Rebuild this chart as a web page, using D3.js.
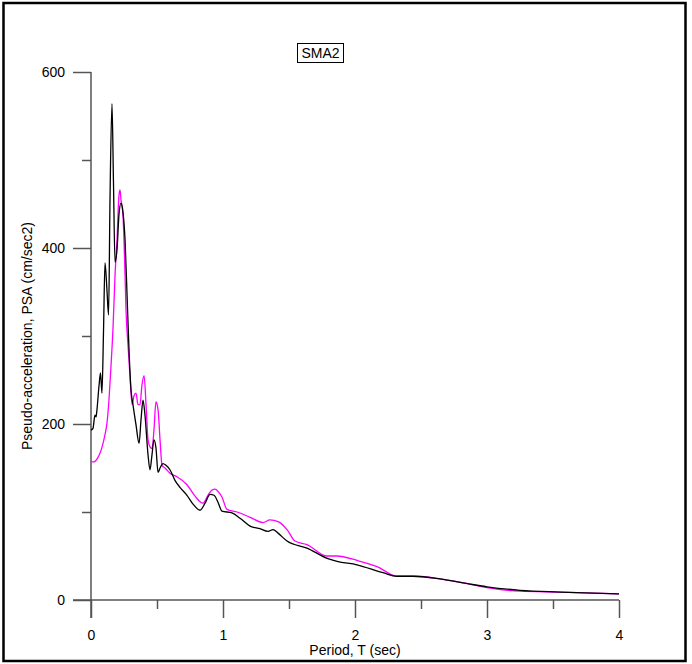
<!DOCTYPE html>
<html>
<head>
<meta charset="utf-8">
<script src="https://cdn.jsdelivr.net/npm/d3@7"></script>
<style>
  html, body { margin: 0; padding: 0; background: #fff; }
  svg { display: block; }
  text { font-family: "Liberation Sans", Arial, sans-serif; }
</style>
</head>
<body>
<svg id="chart" width="692" height="664"></svg>
<script>
// ---- Data ----
const title = "SMA2";
const xLabel = "Period, T (sec)";
const yLabel = "Pseudo-acceleration, PSA (cm/sec2)";
const xTicks = [0, 1, 2, 3, 4];
const xMinorTicks = [0.5, 1.5, 2.5, 3.5];
const yTicks = [0, 200, 400, 600];
const yMinorTicks = [100, 300, 500];

// Black series: period (s) and PSA (cm/s^2)
const blackT = [0.000,0.015,0.030,0.038,0.045,0.061,0.072,0.083,0.095,0.106,0.121,0.133,0.144,0.159,0.170,0.182,0.197,0.212,0.227,0.242,0.258,0.273,0.288,0.303,0.318,0.341,0.364,0.379,0.394,0.409,0.432,0.447,0.462,0.477,0.492,0.508,0.523,0.545,0.568,0.598,0.636,0.674,0.727,0.773,0.826,0.864,0.902,0.932,0.962,0.992,1.068,1.129,1.205,1.280,1.341,1.379,1.417,1.485,1.636,1.795,1.864,2.015,2.212,2.318,2.439,2.644,2.871,3.000,3.250,3.553,4.000];
const blackPSA = [193,195,210,208,216,244,258,235,307,383,352,324,455,564,477,384,398,438,451,441,409,347,284,239,222,199,178,205,227,210,165,148,165,182,173,145,150,155,153,148,136,128,119,109,102,110,120,119,111,101,99,93,84,81,78,80,76,67,59,47,44,40,31,27,27,24,18,15,11,9,7];

// Magenta series
const magentaT = [0.000,0.023,0.053,0.076,0.091,0.106,0.121,0.136,0.152,0.167,0.182,0.197,0.212,0.220,0.227,0.242,0.258,0.265,0.280,0.295,0.311,0.326,0.341,0.356,0.371,0.386,0.402,0.417,0.432,0.447,0.462,0.477,0.492,0.508,0.523,0.538,0.561,0.598,0.652,0.727,0.788,0.848,0.886,0.917,0.939,0.970,0.992,1.030,1.106,1.205,1.303,1.356,1.417,1.485,1.545,1.636,1.788,1.864,2.015,2.167,2.318,2.470,2.644,2.871,3.000,3.250,3.553,4.000];
const magentaPSA = [157,157,162,170,178,188,201,227,267,310,369,409,460,466,455,438,369,330,290,256,222,232,235,222,222,244,255,222,182,174,172,193,225,216,182,153,150,144,140,131,118,110,119,125,126,122,117,103,100,94,88,91,89,80,67,63,50,50,45,38,27,27,24,18,14,10,9,7];

// ---- Drawing ----
const svg = d3.select("#chart");
const W = 692, H = 664;

// outer frame
svg.append("rect")
  .attr("x", 3.5).attr("y", 3).attr("width", 682).attr("height", 658)
  .attr("fill", "none").attr("stroke", "#000").attr("stroke-width", 2.5);

const x = d3.scaleLinear().domain([0, 4]).range([91, 619]);
const y = d3.scaleLinear().domain([0, 600]).range([600, 72]);

const axisColor = "#555";

// Y axis
const yAxisG = svg.append("g").attr("transform", "translate(91,0)");
yAxisG.call(d3.axisLeft(y).tickValues(yTicks).tickSize(18).tickPadding(8).tickFormat(d3.format("d")));
yAxisG.append("g").call(d3.axisLeft(y).tickValues(yMinorTicks).tickSize(9).tickFormat(""));
yAxisG.selectAll(".domain").remove();
yAxisG.append("line").attr("x1", 0).attr("x2", 0).attr("y1", y(600)).attr("y2", 618);

// X axis
const xAxisG = svg.append("g").attr("transform", "translate(0,600)");
xAxisG.call(d3.axisBottom(x).tickValues(xTicks).tickSize(18).tickPadding(12).tickFormat(d3.format("d")));
xAxisG.append("g").call(d3.axisBottom(x).tickValues(xMinorTicks).tickSize(9).tickFormat(""));
xAxisG.selectAll(".domain").remove();
xAxisG.append("line").attr("x1", 73).attr("x2", x(4)).attr("y1", 0).attr("y2", 0);

svg.selectAll("g line").attr("stroke", axisColor).attr("stroke-width", 1.5);
svg.selectAll("g .tick text")
  .attr("fill", "#000")
  .style("font-size", "14px")
  .style("font-family", "'Liberation Sans', Arial, sans-serif");

// Series lines
const line = d3.line().x(d => x(d[0])).y(d => y(d[1])).curve(d3.curveMonotoneX);
const magenta = magentaT.map((t, i) => [t, magentaPSA[i]]);
const black = blackT.map((t, i) => [t, blackPSA[i]]);

svg.append("path").datum(magenta).attr("d", line)
  .attr("fill", "none").attr("stroke", "#ff00ff").attr("stroke-width", 1.3);
svg.append("path").datum(black).attr("d", line)
  .attr("fill", "none").attr("stroke", "#000").attr("stroke-width", 1.3);

// Axis titles
svg.append("text")
  .attr("x", 355).attr("y", 655)
  .attr("text-anchor", "middle")
  .style("font-size", "14px")
  .text(xLabel);

svg.append("text")
  .attr("transform", "translate(32,336) rotate(-90)")
  .attr("text-anchor", "middle")
  .style("font-size", "14px")
  .text(yLabel);

// Title box
const tt = svg.append("text")
  .attr("x", 320.5).attr("y", 58)
  .attr("text-anchor", "middle")
  .style("font-size", "14px")
  .text(title);
svg.append("rect")
  .attr("x", 297.5).attr("y", 43.5).attr("width", 46).attr("height", 19)
  .attr("fill", "none").attr("stroke", "#000").attr("stroke-width", 1);
</script>
</body>
</html>
